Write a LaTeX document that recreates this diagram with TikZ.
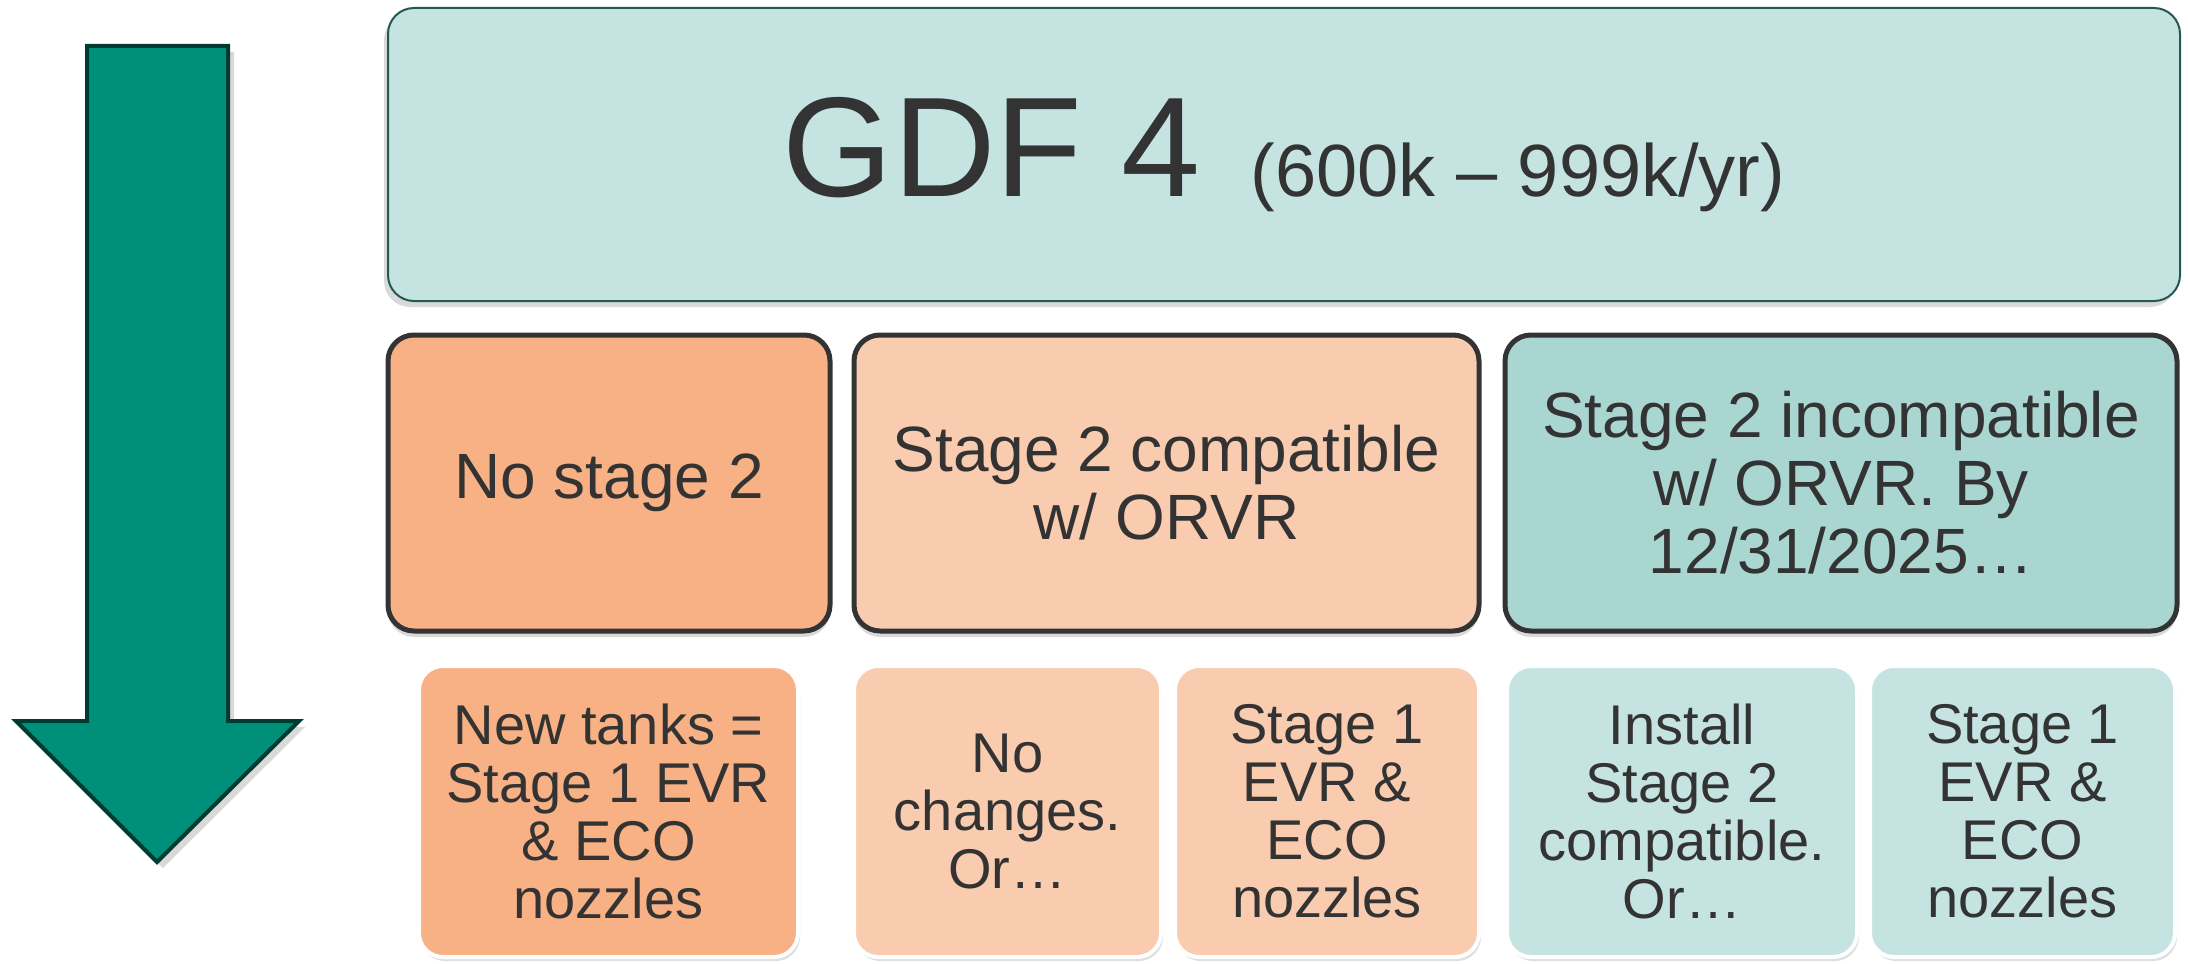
\documentclass[tikz,border=0pt]{standalone}
\usepackage{fontspec}
\setmainfont{Liberation Sans}
\usetikzlibrary{shadows}
\definecolor{txt}{HTML}{333333}
\definecolor{topfill}{HTML}{C5E3E1}
\definecolor{topline}{HTML}{24594F}
\definecolor{orange}{HTML}{F7B184}
\definecolor{peach}{HTML}{F9CBAF}
\definecolor{tealmid}{HTML}{A9D6D1}
\definecolor{arrowfill}{HTML}{00907A}
\definecolor{arrowline}{HTML}{003B31}
\definecolor{midline}{HTML}{333333}
\tikzset{
  topbox/.style={draw=topline, line width=1pt, fill=topfill, rounded corners=13pt,
    drop shadow={shadow xshift=-2pt, shadow yshift=-3pt, opacity=0.3}},
  midbox/.style={draw=midline, line width=2.5pt, rounded corners=13pt, text=txt,
    align=center, font=\fontsize{32}{34}\selectfont, minimum height=148pt,
    drop shadow={shadow xshift=0pt, shadow yshift=-3pt, opacity=0.3}},
  botbox/.style={draw=white, line width=2pt, rounded corners=12pt, text=txt,
    align=center, font=\fontsize{28}{29}\selectfont, minimum height=145.5pt,
    drop shadow={shadow xshift=1pt, shadow yshift=-2pt, opacity=0.25}},
}
\begin{document}
\begin{tikzpicture}[x=0.5pt, y=-0.5pt]
\useasboundingbox (0,0) rectangle (2188,963);
% arrow
\draw[fill=arrowfill, draw=arrowline, line width=2pt, line join=miter,
  drop shadow={shadow xshift=3pt, shadow yshift=-3pt, opacity=0.3}]
  (87,46) -- (228,46) -- (228,721) -- (299,721) -- (157,862) -- (16,721) -- (87,721) -- cycle;
% top box
\node[topbox, minimum width=896pt, minimum height=146.5pt, text=txt] (top) at (1284,154.5)
  {\fontsize{71}{71}\selectfont GDF 4\hspace{0.35em}\fontsize{37}{37}\selectfont (600k – 999k/yr)};
% middle row
\node[midbox, fill=orange, minimum width=221pt] (m1) at (609,483) {No stage 2};
\node[midbox, fill=peach, minimum width=312.5pt] (m2) at (1166.5,483) {Stage 2 compatible\\w/ ORVR};
\node[midbox, fill=tealmid, minimum width=336pt] (m3) at (1841,483) {Stage 2 incompatible\\w/ ORVR. By\\12/31/2025…};
% bottom row
\node[botbox, fill=orange, minimum width=189.5pt] (b1) at (608.5,811.5) {New tanks =\\Stage 1 EVR\\\& ECO\\nozzles};
\node[botbox, fill=peach, minimum width=153.5pt] (b2) at (1007.5,811.5) {No\\changes.\\Or…};
\node[botbox, fill=peach, minimum width=152pt] (b3) at (1327,811.5) {Stage 1\\EVR \&\\ECO\\nozzles};
\node[botbox, fill=topfill, minimum width=175pt] (b4) at (1682,811.5) {Install\\Stage 2\\compatible.\\Or…};
\node[botbox, fill=topfill, minimum width=152.5pt] (b5) at (2022.5,811.5) {Stage 1\\EVR \&\\ECO\\nozzles};
\end{tikzpicture}
\end{document}
